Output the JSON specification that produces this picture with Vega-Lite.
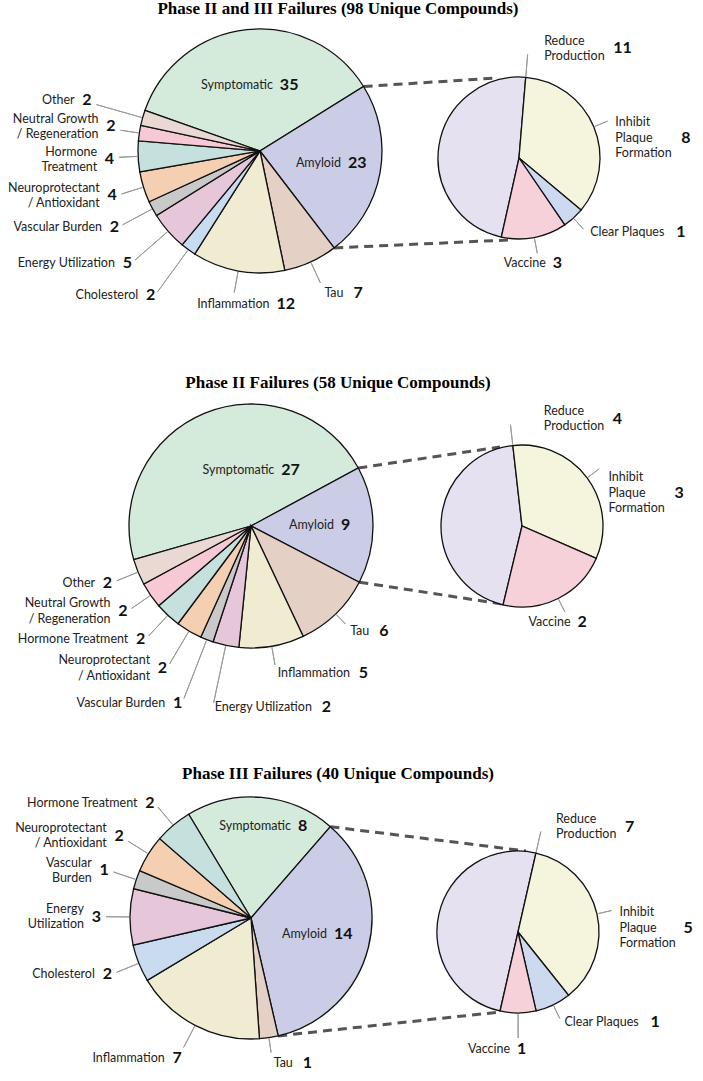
{
"$schema": "https://vega.github.io/schema/vega-lite/v6.json",
"width": 703, "height": 1081, "padding": 0,
"autosize": "none",
"background": "white",
"config": {"view": {"stroke": null}, "text": {"font": "Lato", "fontSize": 12.5, "lineHeight": 15.5, "fill": "#222"}},
"resolve": {"scale": {"theta": "independent"}},
"datasets": {
"p1": [
{"i": 1, "cat": "Symptomatic", "label": "Symptomatic", "n": 35},
{"i": 2, "cat": "Amyloid", "label": "Amyloid", "n": 23},
{"i": 3, "cat": "Tau", "label": "Tau", "n": 7},
{"i": 4, "cat": "Inflammation", "label": "Inflammation", "n": 12},
{"i": 5, "cat": "Cholesterol", "label": "Cholesterol", "n": 2},
{"i": 6, "cat": "Energy Utilization", "label": "Energy Utilization", "n": 5},
{"i": 7, "cat": "Vascular Burden", "label": "Vascular Burden", "n": 2},
{"i": 8, "cat": "Neuroprotectant / Antioxidant", "label": ["Neuroprotectant", "/ Antioxidant"], "n": 4},
{"i": 9, "cat": "Hormone Treatment", "label": ["Hormone", "Treatment"], "n": 4},
{"i": 10, "cat": "Neutral Growth / Regeneration", "label": ["Neutral Growth", "/ Regeneration"], "n": 2},
{"i": 11, "cat": "Other", "label": "Other", "n": 2}
],
"s1": [
{"i": 1, "cat": "Reduce Production", "label": ["Reduce", "Production"], "n": 11},
{"i": 2, "cat": "Inhibit Plaque Formation", "label": ["Inhibit", "Plaque", "Formation"], "n": 8},
{"i": 3, "cat": "Clear Plaques", "label": "Clear Plaques", "n": 1},
{"i": 4, "cat": "Vaccine", "label": "Vaccine", "n": 3}
],
"p2": [
{"i": 1, "cat": "Symptomatic", "label": "Symptomatic", "n": 27},
{"i": 2, "cat": "Amyloid", "label": "Amyloid", "n": 9},
{"i": 3, "cat": "Tau", "label": "Tau", "n": 6},
{"i": 4, "cat": "Inflammation", "label": "Inflammation", "n": 5},
{"i": 6, "cat": "Energy Utilization", "label": "Energy Utilization", "n": 2},
{"i": 7, "cat": "Vascular Burden", "label": "Vascular Burden", "n": 1},
{"i": 8, "cat": "Neuroprotectant / Antioxidant", "label": ["Neuroprotectant", "/ Antioxidant"], "n": 2},
{"i": 9, "cat": "Hormone Treatment", "label": "Hormone Treatment", "n": 2},
{"i": 10, "cat": "Neutral Growth / Regeneration", "label": ["Neutral Growth", "/ Regeneration"], "n": 2},
{"i": 11, "cat": "Other", "label": "Other", "n": 2}
],
"s2": [
{"i": 1, "cat": "Reduce Production", "label": ["Reduce", "Production"], "n": 4},
{"i": 2, "cat": "Inhibit Plaque Formation", "label": ["Inhibit", "Plaque", "Formation"], "n": 3},
{"i": 4, "cat": "Vaccine", "label": "Vaccine", "n": 2}
],
"p3": [
{"i": 1, "cat": "Symptomatic", "label": "Symptomatic", "n": 8},
{"i": 2, "cat": "Amyloid", "label": "Amyloid", "n": 14},
{"i": 3, "cat": "Tau", "label": "Tau", "n": 1},
{"i": 4, "cat": "Inflammation", "label": "Inflammation", "n": 7},
{"i": 5, "cat": "Cholesterol", "label": "Cholesterol", "n": 2},
{"i": 6, "cat": "Energy Utilization", "label": ["Energy", "Utilization"], "n": 3},
{"i": 7, "cat": "Vascular Burden", "label": ["Vascular", "Burden"], "n": 1},
{"i": 8, "cat": "Neuroprotectant / Antioxidant", "label": ["Neuroprotectant", "/ Antioxidant"], "n": 2},
{"i": 9, "cat": "Hormone Treatment", "label": "Hormone Treatment", "n": 2}
],
"s3": [
{"i": 1, "cat": "Reduce Production", "label": ["Reduce", "Production"], "n": 7},
{"i": 2, "cat": "Inhibit Plaque Formation", "label": ["Inhibit", "Plaque", "Formation"], "n": 5},
{"i": 3, "cat": "Clear Plaques", "label": "Clear Plaques", "n": 1},
{"i": 4, "cat": "Vaccine", "label": "Vaccine", "n": 1}
]
},
"layer": [
{"data": {"values": [{"title": "Phase II and III Failures (98 Unique Compounds)"}]},
 "mark": {"type": "text", "font": "Liberation Serif", "fontSize": 17, "fontWeight": "bold", "fill": "#000", "baseline": "middle"},
 "encoding": {"x": {"datum": 338, "type": "quantitative", "scale": {"domain": [0, 703], "nice": false, "zero": false}, "axis": null},
  "y": {"datum": 9, "type": "quantitative", "scale": {"domain": [0, 1081], "reverse": true, "nice": false, "zero": false}, "axis": null},
  "text": {"field": "title", "type": "nominal"}}},
{"data": {"values": [{"title": "Phase II Failures (58 Unique Compounds)"}]},
 "mark": {"type": "text", "font": "Liberation Serif", "fontSize": 17, "fontWeight": "bold", "fill": "#000", "baseline": "middle"},
 "encoding": {"x": {"datum": 338, "type": "quantitative", "scale": {"domain": [0, 703], "nice": false, "zero": false}, "axis": null},
  "y": {"datum": 383, "type": "quantitative", "scale": {"domain": [0, 1081], "reverse": true, "nice": false, "zero": false}, "axis": null},
  "text": {"field": "title", "type": "nominal"}}},
{"data": {"values": [{"title": "Phase III Failures (40 Unique Compounds)"}]},
 "mark": {"type": "text", "font": "Liberation Serif", "fontSize": 17, "fontWeight": "bold", "fill": "#000", "baseline": "middle"},
 "encoding": {"x": {"datum": 338, "type": "quantitative", "scale": {"domain": [0, 703], "nice": false, "zero": false}, "axis": null},
  "y": {"datum": 774, "type": "quantitative", "scale": {"domain": [0, 1081], "reverse": true, "nice": false, "zero": false}, "axis": null},
  "text": {"field": "title", "type": "nominal"}}},

{"data": {"values": [{"link": "Amyloid"}]},
 "mark": {"type": "rule", "stroke": "#555", "strokeWidth": 3, "strokeDash": [9, 6]},
 "encoding": {"x": {"datum": 363.6, "type": "quantitative", "scale": {"domain": [0, 703], "nice": false, "zero": false}, "axis": null}, "y": {"datum": 86.5, "type": "quantitative", "scale": {"domain": [0, 1081], "reverse": true, "nice": false, "zero": false}, "axis": null}, "x2": {"datum": 497}, "y2": {"datum": 78}}},
{"data": {"values": [{"link": "Amyloid"}]},
 "mark": {"type": "rule", "stroke": "#555", "strokeWidth": 3, "strokeDash": [9, 6]},
 "encoding": {"x": {"datum": 334.2, "type": "quantitative", "scale": {"domain": [0, 703], "nice": false, "zero": false}, "axis": null}, "y": {"datum": 247.9, "type": "quantitative", "scale": {"domain": [0, 1081], "reverse": true, "nice": false, "zero": false}, "axis": null}, "x2": {"datum": 508}, "y2": {"datum": 240}}},
{"data": {"values": [{"link": "Amyloid"}]},
 "mark": {"type": "rule", "stroke": "#555", "strokeWidth": 3, "strokeDash": [9, 6]},
 "encoding": {"x": {"datum": 358.3, "type": "quantitative", "scale": {"domain": [0, 703], "nice": false, "zero": false}, "axis": null}, "y": {"datum": 468, "type": "quantitative", "scale": {"domain": [0, 1081], "reverse": true, "nice": false, "zero": false}, "axis": null}, "x2": {"datum": 500}, "y2": {"datum": 447}}},
{"data": {"values": [{"link": "Amyloid"}]},
 "mark": {"type": "rule", "stroke": "#555", "strokeWidth": 3, "strokeDash": [9, 6]},
 "encoding": {"x": {"datum": 359.3, "type": "quantitative", "scale": {"domain": [0, 703], "nice": false, "zero": false}, "axis": null}, "y": {"datum": 582.2, "type": "quantitative", "scale": {"domain": [0, 1081], "reverse": true, "nice": false, "zero": false}, "axis": null}, "x2": {"datum": 502}, "y2": {"datum": 604}}},
{"data": {"values": [{"link": "Amyloid"}]},
 "mark": {"type": "rule", "stroke": "#555", "strokeWidth": 3, "strokeDash": [9, 6]},
 "encoding": {"x": {"datum": 330.4, "type": "quantitative", "scale": {"domain": [0, 703], "nice": false, "zero": false}, "axis": null}, "y": {"datum": 826.7, "type": "quantitative", "scale": {"domain": [0, 1081], "reverse": true, "nice": false, "zero": false}, "axis": null}, "x2": {"datum": 526}, "y2": {"datum": 851}}},
{"data": {"values": [{"link": "Amyloid"}]},
 "mark": {"type": "rule", "stroke": "#555", "strokeWidth": 3, "strokeDash": [9, 6]},
 "encoding": {"x": {"datum": 278.2, "type": "quantitative", "scale": {"domain": [0, 703], "nice": false, "zero": false}, "axis": null}, "y": {"datum": 1035.9, "type": "quantitative", "scale": {"domain": [0, 1081], "reverse": true, "nice": false, "zero": false}, "axis": null}, "x2": {"datum": 500}, "y2": {"datum": 1012}}},

{"data": {"name": "p1"},
 "encoding": {
  "x": {"datum": 260, "type": "quantitative", "scale": {"domain": [0, 703], "nice": false, "zero": false}, "axis": null},
  "y": {"datum": 151, "type": "quantitative", "scale": {"domain": [0, 1081], "reverse": true, "nice": false, "zero": false}, "axis": null}},
 "layer": [
  {"mark": {"type": "arc", "radius": 122, "stroke": "#111", "strokeWidth": 1.3},
   "encoding": {
    "theta": {"field": "n", "type": "quantitative", "stack": true, "scale": {"domain": [0, 98], "range": [-1.23046, 5.05273]}},
    "order": {"field": "i", "type": "quantitative"},
    "color": {"field": "cat", "type": "nominal", "legend": null, "scale": {"domain": ["Symptomatic","Amyloid","Tau","Inflammation","Cholesterol","Energy Utilization","Vascular Burden","Neuroprotectant / Antioxidant","Hormone Treatment","Neutral Growth / Regeneration","Other","Reduce Production","Inhibit Plaque Formation","Clear Plaques","Vaccine"], "range": ["#d4eadb","#cbcde6","#e4d0c4","#efecd2","#c9dbef","#e6c6d9","#c9c9c9","#f4cfb2","#c6e1dd","#f6c9d4","#e9d9d2","#e6e1f0","#f5f4dc","#cdd9ee","#f6d1da"]}}}},

  {"transform": [{"stack": "n", "groupby": [], "sort": [{"field": "i", "order": "ascending"}], "as": ["n0", "n1"]}, {"filter": {"field": "cat", "oneOf": ["Symptomatic"]}}, {"fold": ["n0", "n1"], "as": ["edge", "bound"]}, {"aggregate": [{"op": "mean", "field": "bound", "as": "mid"}], "groupby": ["cat", "label", "n", "i"]}],
   "encoding": {"theta": {"field": "mid", "type": "quantitative", "stack": null, "scale": {"domain": [0, 98], "range": [-1.23046, 5.05273]}}},
   "layer": [
    {"mark": {"type": "text", "radius": 66, "align": "right", "baseline": "middle", "dx": 20}, "encoding": {"text": {"field": "label", "type": "nominal"}}},
    {"mark": {"type": "text", "radius": 66, "align": "left", "baseline": "middle", "dx": 27, "fontSize": 16, "fontWeight": "bold", "fill": "#111"}, "encoding": {"text": {"field": "n", "type": "quantitative"}}}]},
  {"transform": [{"stack": "n", "groupby": [], "sort": [{"field": "i", "order": "ascending"}], "as": ["n0", "n1"]}, {"filter": {"field": "cat", "oneOf": ["Amyloid"]}}, {"fold": ["n0", "n1"], "as": ["edge", "bound"]}, {"aggregate": [{"op": "mean", "field": "bound", "as": "mid"}], "groupby": ["cat", "label", "n", "i"]}],
   "encoding": {"theta": {"field": "mid", "type": "quantitative", "stack": null, "scale": {"domain": [0, 98], "range": [-1.23046, 5.05273]}}},
   "layer": [
    {"mark": {"type": "text", "radius": 66, "align": "right", "baseline": "middle", "dx": 16}, "encoding": {"text": {"field": "label", "type": "nominal"}}},
    {"mark": {"type": "text", "radius": 66, "align": "left", "baseline": "middle", "dx": 23, "fontSize": 16, "fontWeight": "bold", "fill": "#111"}, "encoding": {"text": {"field": "n", "type": "quantitative"}}}]},
  {"transform": [{"stack": "n", "groupby": [], "sort": [{"field": "i", "order": "ascending"}], "as": ["n0", "n1"]}, {"filter": {"field": "cat", "oneOf": ["Other"]}}, {"fold": ["n0", "n1"], "as": ["edge", "bound"]}, {"aggregate": [{"op": "mean", "field": "bound", "as": "mid"}], "groupby": ["cat", "label", "n", "i"]}],
   "encoding": {"theta": {"field": "mid", "type": "quantitative", "stack": null, "scale": {"domain": [0, 98], "range": [-1.23046, 5.05273]}}},
   "layer": [
    {"mark": {"type": "arc", "radius": 170, "radius2": 123, "filled": false, "stroke": "#9a9a9a", "strokeWidth": 1}, "encoding": {"theta2": {"field": "mid"}}},
    {"mark": {"type": "text", "radius": 175, "align": "right", "baseline": "middle", "dx": -17, "dy": -3}, "encoding": {"text": {"field": "label", "type": "nominal"}}},
    {"mark": {"type": "text", "radius": 175, "align": "right", "baseline": "middle", "dx": 0, "dy": -3, "fontSize": 16, "fontWeight": "bold", "fill": "#111"}, "encoding": {"text": {"field": "n", "type": "quantitative"}}}]},
  {"transform": [{"stack": "n", "groupby": [], "sort": [{"field": "i", "order": "ascending"}], "as": ["n0", "n1"]}, {"filter": {"field": "cat", "oneOf": ["Neutral Growth / Regeneration"]}}, {"fold": ["n0", "n1"], "as": ["edge", "bound"]}, {"aggregate": [{"op": "mean", "field": "bound", "as": "mid"}], "groupby": ["cat", "label", "n", "i"]}],
   "encoding": {"theta": {"field": "mid", "type": "quantitative", "stack": null, "scale": {"domain": [0, 98], "range": [-1.23046, 5.05273]}}},
   "layer": [
    {"mark": {"type": "arc", "radius": 141, "radius2": 123, "filled": false, "stroke": "#9a9a9a", "strokeWidth": 1}, "encoding": {"theta2": {"field": "mid"}}},
    {"mark": {"type": "text", "radius": 146, "align": "right", "baseline": "middle", "dx": -17, "dy": -10.75}, "encoding": {"text": {"field": "label", "type": "nominal"}}},
    {"mark": {"type": "text", "radius": 146, "align": "right", "baseline": "middle", "dx": 0, "dy": -3, "fontSize": 16, "fontWeight": "bold", "fill": "#111"}, "encoding": {"text": {"field": "n", "type": "quantitative"}}}]},
  {"transform": [{"stack": "n", "groupby": [], "sort": [{"field": "i", "order": "ascending"}], "as": ["n0", "n1"]}, {"filter": {"field": "cat", "oneOf": ["Hormone Treatment"]}}, {"fold": ["n0", "n1"], "as": ["edge", "bound"]}, {"aggregate": [{"op": "mean", "field": "bound", "as": "mid"}], "groupby": ["cat", "label", "n", "i"]}],
   "encoding": {"theta": {"field": "mid", "type": "quantitative", "stack": null, "scale": {"domain": [0, 98], "range": [-1.23046, 5.05273]}}},
   "layer": [
    {"mark": {"type": "arc", "radius": 141, "radius2": 123, "filled": false, "stroke": "#9a9a9a", "strokeWidth": 1}, "encoding": {"theta2": {"field": "mid"}}},
    {"mark": {"type": "text", "radius": 146, "align": "right", "baseline": "middle", "dx": -17, "dy": -5.75}, "encoding": {"text": {"field": "label", "type": "nominal"}}},
    {"mark": {"type": "text", "radius": 146, "align": "right", "baseline": "middle", "dx": 0, "dy": 2, "fontSize": 16, "fontWeight": "bold", "fill": "#111"}, "encoding": {"text": {"field": "n", "type": "quantitative"}}}]},
  {"transform": [{"stack": "n", "groupby": [], "sort": [{"field": "i", "order": "ascending"}], "as": ["n0", "n1"]}, {"filter": {"field": "cat", "oneOf": ["Neuroprotectant / Antioxidant"]}}, {"fold": ["n0", "n1"], "as": ["edge", "bound"]}, {"aggregate": [{"op": "mean", "field": "bound", "as": "mid"}], "groupby": ["cat", "label", "n", "i"]}],
   "encoding": {"theta": {"field": "mid", "type": "quantitative", "stack": null, "scale": {"domain": [0, 98], "range": [-1.23046, 5.05273]}}},
   "layer": [
    {"mark": {"type": "arc", "radius": 145, "radius2": 123, "filled": false, "stroke": "#9a9a9a", "strokeWidth": 1}, "encoding": {"theta2": {"field": "mid"}}},
    {"mark": {"type": "text", "radius": 150, "align": "right", "baseline": "middle", "dx": -17, "dy": -7.75}, "encoding": {"text": {"field": "label", "type": "nominal"}}},
    {"mark": {"type": "text", "radius": 150, "align": "right", "baseline": "middle", "dx": 0, "fontSize": 16, "fontWeight": "bold", "fill": "#111"}, "encoding": {"text": {"field": "n", "type": "quantitative"}}}]},
  {"transform": [{"stack": "n", "groupby": [], "sort": [{"field": "i", "order": "ascending"}], "as": ["n0", "n1"]}, {"filter": {"field": "cat", "oneOf": ["Vascular Burden"]}}, {"fold": ["n0", "n1"], "as": ["edge", "bound"]}, {"aggregate": [{"op": "mean", "field": "bound", "as": "mid"}], "groupby": ["cat", "label", "n", "i"]}],
   "encoding": {"theta": {"field": "mid", "type": "quantitative", "stack": null, "scale": {"domain": [0, 98], "range": [-1.23046, 5.05273]}}},
   "layer": [
    {"mark": {"type": "arc", "radius": 156, "radius2": 123, "filled": false, "stroke": "#9a9a9a", "strokeWidth": 1}, "encoding": {"theta2": {"field": "mid"}}},
    {"mark": {"type": "text", "radius": 160, "align": "right", "baseline": "middle", "dx": -17}, "encoding": {"text": {"field": "label", "type": "nominal"}}},
    {"mark": {"type": "text", "radius": 160, "align": "right", "baseline": "middle", "dx": 0, "fontSize": 16, "fontWeight": "bold", "fill": "#111"}, "encoding": {"text": {"field": "n", "type": "quantitative"}}}]},
  {"transform": [{"stack": "n", "groupby": [], "sort": [{"field": "i", "order": "ascending"}], "as": ["n0", "n1"]}, {"filter": {"field": "cat", "oneOf": ["Energy Utilization"]}}, {"fold": ["n0", "n1"], "as": ["edge", "bound"]}, {"aggregate": [{"op": "mean", "field": "bound", "as": "mid"}], "groupby": ["cat", "label", "n", "i"]}],
   "encoding": {"theta": {"field": "mid", "type": "quantitative", "stack": null, "scale": {"domain": [0, 98], "range": [-1.23046, 5.05273]}}},
   "layer": [
    {"mark": {"type": "arc", "radius": 166, "radius2": 123, "filled": false, "stroke": "#9a9a9a", "strokeWidth": 1}, "encoding": {"theta2": {"field": "mid"}}},
    {"mark": {"type": "text", "radius": 170, "align": "right", "baseline": "middle", "dx": -17}, "encoding": {"text": {"field": "label", "type": "nominal"}}},
    {"mark": {"type": "text", "radius": 170, "align": "right", "baseline": "middle", "dx": 0, "fontSize": 16, "fontWeight": "bold", "fill": "#111"}, "encoding": {"text": {"field": "n", "type": "quantitative"}}}]},
  {"transform": [{"stack": "n", "groupby": [], "sort": [{"field": "i", "order": "ascending"}], "as": ["n0", "n1"]}, {"filter": {"field": "cat", "oneOf": ["Cholesterol"]}}, {"fold": ["n0", "n1"], "as": ["edge", "bound"]}, {"aggregate": [{"op": "mean", "field": "bound", "as": "mid"}], "groupby": ["cat", "label", "n", "i"]}],
   "encoding": {"theta": {"field": "mid", "type": "quantitative", "stack": null, "scale": {"domain": [0, 98], "range": [-1.23046, 5.05273]}}},
   "layer": [
    {"mark": {"type": "arc", "radius": 174, "radius2": 123, "filled": false, "stroke": "#9a9a9a", "strokeWidth": 1}, "encoding": {"theta2": {"field": "mid"}}},
    {"mark": {"type": "text", "radius": 178, "align": "right", "baseline": "middle", "dx": -17}, "encoding": {"text": {"field": "label", "type": "nominal"}}},
    {"mark": {"type": "text", "radius": 178, "align": "right", "baseline": "middle", "dx": 0, "fontSize": 16, "fontWeight": "bold", "fill": "#111"}, "encoding": {"text": {"field": "n", "type": "quantitative"}}}]},
  {"transform": [{"stack": "n", "groupby": [], "sort": [{"field": "i", "order": "ascending"}], "as": ["n0", "n1"]}, {"filter": {"field": "cat", "oneOf": ["Inflammation"]}}, {"fold": ["n0", "n1"], "as": ["edge", "bound"]}, {"aggregate": [{"op": "mean", "field": "bound", "as": "mid"}], "groupby": ["cat", "label", "n", "i"]}],
   "encoding": {"theta": {"field": "mid", "type": "quantitative", "stack": null, "scale": {"domain": [0, 98], "range": [-1.23046, 5.05273]}}},
   "layer": [
    {"mark": {"type": "arc", "radius": 144, "radius2": 123, "filled": false, "stroke": "#9a9a9a", "strokeWidth": 1}, "encoding": {"theta2": {"field": "mid"}}},
    {"mark": {"type": "text", "radius": 148, "align": "right", "baseline": "middle", "dx": 36, "dy": 7}, "encoding": {"text": {"field": "label", "type": "nominal"}}},
    {"mark": {"type": "text", "radius": 148, "align": "left", "baseline": "middle", "dx": 43, "dy": 7, "fontSize": 16, "fontWeight": "bold", "fill": "#111"}, "encoding": {"text": {"field": "n", "type": "quantitative"}}}]},
  {"transform": [{"stack": "n", "groupby": [], "sort": [{"field": "i", "order": "ascending"}], "as": ["n0", "n1"]}, {"filter": {"field": "cat", "oneOf": ["Tau"]}}, {"fold": ["n0", "n1"], "as": ["edge", "bound"]}, {"aggregate": [{"op": "mean", "field": "bound", "as": "mid"}], "groupby": ["cat", "label", "n", "i"]}],
   "encoding": {"theta": {"field": "mid", "type": "quantitative", "stack": null, "scale": {"domain": [0, 98], "range": [-1.23046, 5.05273]}}},
   "layer": [
    {"mark": {"type": "arc", "radius": 145, "radius2": 123, "filled": false, "stroke": "#9a9a9a", "strokeWidth": 1}, "encoding": {"theta2": {"field": "mid"}}},
    {"mark": {"type": "text", "radius": 150, "align": "left", "baseline": "middle", "dx": 2, "dy": 6}, "encoding": {"text": {"field": "label", "type": "nominal"}}},
    {"mark": {"type": "text", "radius": 150, "align": "left", "baseline": "middle", "dx": 31, "dy": 6, "fontSize": 16, "fontWeight": "bold", "fill": "#111"}, "encoding": {"text": {"field": "n", "type": "quantitative"}}}]}
 ]},

{"data": {"name": "s1"},
 "encoding": {
  "x": {"datum": 519, "type": "quantitative", "scale": {"domain": [0, 703], "nice": false, "zero": false}, "axis": null},
  "y": {"datum": 158, "type": "quantitative", "scale": {"domain": [0, 1081], "reverse": true, "nice": false, "zero": false}, "axis": null}},
 "layer": [
  {"mark": {"type": "arc", "radius": 81, "stroke": "#111", "strokeWidth": 1.3},
   "encoding": {
    "theta": {"field": "n", "type": "quantitative", "stack": true, "scale": {"domain": [0, 23], "range": [-2.92168, 3.36151]}},
    "order": {"field": "i", "type": "quantitative"},
    "color": {"field": "cat", "type": "nominal", "legend": null}}},
  {"transform": [{"stack": "n", "groupby": [], "sort": [{"field": "i", "order": "ascending"}], "as": ["n0", "n1"]}, {"filter": {"field": "cat", "oneOf": ["Reduce Production"]}}],
   "encoding": {"theta": {"field": "n1", "type": "quantitative", "stack": null, "scale": {"domain": [0, 23], "range": [-2.92168, 3.36151]}}},
   "layer": [
    {"mark": {"type": "arc", "radius": 104, "radius2": 82, "filled": false, "stroke": "#9a9a9a", "strokeWidth": 1}, "encoding": {"theta2": {"field": "n1"}}},
    {"mark": {"type": "text", "radius": 110, "align": "left", "baseline": "middle", "dx": 16, "dy": -7.75}, "encoding": {"text": {"field": "label", "type": "nominal"}}},
    {"mark": {"type": "text", "radius": 110, "align": "left", "baseline": "middle", "dx": 85, "fontSize": 16, "fontWeight": "bold", "fill": "#111"}, "encoding": {"text": {"field": "n", "type": "quantitative"}}}]},
  {"transform": [{"stack": "n", "groupby": [], "sort": [{"field": "i", "order": "ascending"}], "as": ["n0", "n1"]}, {"filter": {"field": "cat", "oneOf": ["Inhibit Plaque Formation"]}}, {"fold": ["n0", "n1"], "as": ["edge", "bound"]}, {"aggregate": [{"op": "mean", "field": "bound", "as": "mid"}], "groupby": ["cat", "label", "n", "i"]}],
   "encoding": {"theta": {"field": "mid", "type": "quantitative", "stack": null, "scale": {"domain": [0, 23], "range": [-2.92168, 3.36151]}}},
   "layer": [
    {"mark": {"type": "arc", "radius": 96, "radius2": 82, "filled": false, "stroke": "#9a9a9a", "strokeWidth": 1}, "encoding": {"theta2": {"field": "mid"}}},
    {"mark": {"type": "text", "radius": 100, "align": "left", "baseline": "middle", "dx": 4, "dy": 2.5}, "encoding": {"text": {"field": "label", "type": "nominal"}}},
    {"mark": {"type": "text", "radius": 100, "align": "left", "baseline": "middle", "dx": 70, "dy": 18, "fontSize": 16, "fontWeight": "bold", "fill": "#111"}, "encoding": {"text": {"field": "n", "type": "quantitative"}}}]},
  {"transform": [{"stack": "n", "groupby": [], "sort": [{"field": "i", "order": "ascending"}], "as": ["n0", "n1"]}, {"filter": {"field": "cat", "oneOf": ["Clear Plaques"]}}, {"fold": ["n0", "n1"], "as": ["edge", "bound"]}, {"aggregate": [{"op": "mean", "field": "bound", "as": "mid"}], "groupby": ["cat", "label", "n", "i"]}],
   "encoding": {"theta": {"field": "mid", "type": "quantitative", "stack": null, "scale": {"domain": [0, 23], "range": [-2.92168, 3.36151]}}},
   "layer": [
    {"mark": {"type": "arc", "radius": 96, "radius2": 82, "filled": false, "stroke": "#9a9a9a", "strokeWidth": 1}, "encoding": {"theta2": {"field": "mid"}}},
    {"mark": {"type": "text", "radius": 100, "align": "left", "baseline": "middle", "dx": 4}, "encoding": {"text": {"field": "label", "type": "nominal"}}},
    {"mark": {"type": "text", "radius": 100, "align": "left", "baseline": "middle", "dx": 90, "fontSize": 16, "fontWeight": "bold", "fill": "#111"}, "encoding": {"text": {"field": "n", "type": "quantitative"}}}]},
  {"transform": [{"stack": "n", "groupby": [], "sort": [{"field": "i", "order": "ascending"}], "as": ["n0", "n1"]}, {"filter": {"field": "cat", "oneOf": ["Vaccine"]}}, {"fold": ["n0", "n1"], "as": ["edge", "bound"]}, {"aggregate": [{"op": "mean", "field": "bound", "as": "mid"}], "groupby": ["cat", "label", "n", "i"]}],
   "encoding": {"theta": {"field": "mid", "type": "quantitative", "stack": null, "scale": {"domain": [0, 23], "range": [-2.92168, 3.36151]}}},
   "layer": [
    {"mark": {"type": "arc", "radius": 97, "radius2": 82, "filled": false, "stroke": "#9a9a9a", "strokeWidth": 1}, "encoding": {"theta2": {"field": "mid"}}},
    {"mark": {"type": "text", "radius": 100, "align": "right", "baseline": "middle", "dx": 8, "dy": 7}, "encoding": {"text": {"field": "label", "type": "nominal"}}},
    {"mark": {"type": "text", "radius": 100, "align": "left", "baseline": "middle", "dx": 15, "dy": 7, "fontSize": 16, "fontWeight": "bold", "fill": "#111"}, "encoding": {"text": {"field": "n", "type": "quantitative"}}}]}
 ]},

{"data": {"name": "p2"},
 "encoding": {
  "x": {"datum": 251, "type": "quantitative", "scale": {"domain": [0, 703], "nice": false, "zero": false}, "axis": null},
  "y": {"datum": 526, "type": "quantitative", "scale": {"domain": [0, 1081], "reverse": true, "nice": false, "zero": false}, "axis": null}},
 "layer": [
  {"mark": {"type": "arc", "radius": 122, "stroke": "#111", "strokeWidth": 1.3},
   "encoding": {
    "theta": {"field": "n", "type": "quantitative", "stack": true, "scale": {"domain": [0, 58], "range": [-1.85005, 4.43314]}},
    "order": {"field": "i", "type": "quantitative"},
    "color": {"field": "cat", "type": "nominal", "legend": null}}},
  {"transform": [{"stack": "n", "groupby": [], "sort": [{"field": "i", "order": "ascending"}], "as": ["n0", "n1"]}, {"filter": {"field": "cat", "oneOf": ["Symptomatic"]}}, {"fold": ["n0", "n1"], "as": ["edge", "bound"]}, {"aggregate": [{"op": "mean", "field": "bound", "as": "mid"}], "groupby": ["cat", "label", "n", "i"]}],
   "encoding": {"theta": {"field": "mid", "type": "quantitative", "stack": null, "scale": {"domain": [0, 58], "range": [-1.85005, 4.43314]}}},
   "layer": [
    {"mark": {"type": "text", "radius": 60, "align": "right", "baseline": "middle", "dx": 46}, "encoding": {"text": {"field": "label", "type": "nominal"}}},
    {"mark": {"type": "text", "radius": 60, "align": "left", "baseline": "middle", "dx": 53, "fontSize": 16, "fontWeight": "bold", "fill": "#111"}, "encoding": {"text": {"field": "n", "type": "quantitative"}}}]},
  {"transform": [{"stack": "n", "groupby": [], "sort": [{"field": "i", "order": "ascending"}], "as": ["n0", "n1"]}, {"filter": {"field": "cat", "oneOf": ["Amyloid"]}}, {"fold": ["n0", "n1"], "as": ["edge", "bound"]}, {"aggregate": [{"op": "mean", "field": "bound", "as": "mid"}], "groupby": ["cat", "label", "n", "i"]}],
   "encoding": {"theta": {"field": "mid", "type": "quantitative", "stack": null, "scale": {"domain": [0, 58], "range": [-1.85005, 4.43314]}}},
   "layer": [
    {"mark": {"type": "text", "radius": 66, "align": "right", "baseline": "middle", "dx": 17}, "encoding": {"text": {"field": "label", "type": "nominal"}}},
    {"mark": {"type": "text", "radius": 66, "align": "left", "baseline": "middle", "dx": 24, "fontSize": 16, "fontWeight": "bold", "fill": "#111"}, "encoding": {"text": {"field": "n", "type": "quantitative"}}}]},
  {"transform": [{"stack": "n", "groupby": [], "sort": [{"field": "i", "order": "ascending"}], "as": ["n0", "n1"]}, {"filter": {"field": "cat", "oneOf": ["Other"]}}, {"fold": ["n0", "n1"], "as": ["edge", "bound"]}, {"aggregate": [{"op": "mean", "field": "bound", "as": "mid"}], "groupby": ["cat", "label", "n", "i"]}],
   "encoding": {"theta": {"field": "mid", "type": "quantitative", "stack": null, "scale": {"domain": [0, 58], "range": [-1.85005, 4.43314]}}},
   "layer": [
    {"mark": {"type": "arc", "radius": 145, "radius2": 123, "filled": false, "stroke": "#9a9a9a", "strokeWidth": 1}, "encoding": {"theta2": {"field": "mid"}}},
    {"mark": {"type": "text", "radius": 150, "align": "right", "baseline": "middle", "dx": -17}, "encoding": {"text": {"field": "label", "type": "nominal"}}},
    {"mark": {"type": "text", "radius": 150, "align": "right", "baseline": "middle", "dx": 0, "fontSize": 16, "fontWeight": "bold", "fill": "#111"}, "encoding": {"text": {"field": "n", "type": "quantitative"}}}]},
  {"transform": [{"stack": "n", "groupby": [], "sort": [{"field": "i", "order": "ascending"}], "as": ["n0", "n1"]}, {"filter": {"field": "cat", "oneOf": ["Neutral Growth / Regeneration"]}}, {"fold": ["n0", "n1"], "as": ["edge", "bound"]}, {"aggregate": [{"op": "mean", "field": "bound", "as": "mid"}], "groupby": ["cat", "label", "n", "i"]}],
   "encoding": {"theta": {"field": "mid", "type": "quantitative", "stack": null, "scale": {"domain": [0, 58], "range": [-1.85005, 4.43314]}}},
   "layer": [
    {"mark": {"type": "arc", "radius": 145, "radius2": 123, "filled": false, "stroke": "#9a9a9a", "strokeWidth": 1}, "encoding": {"theta2": {"field": "mid"}}},
    {"mark": {"type": "text", "radius": 150, "align": "right", "baseline": "middle", "dx": -17, "dy": -7.75}, "encoding": {"text": {"field": "label", "type": "nominal"}}},
    {"mark": {"type": "text", "radius": 150, "align": "right", "baseline": "middle", "dx": 0, "fontSize": 16, "fontWeight": "bold", "fill": "#111"}, "encoding": {"text": {"field": "n", "type": "quantitative"}}}]},
  {"transform": [{"stack": "n", "groupby": [], "sort": [{"field": "i", "order": "ascending"}], "as": ["n0", "n1"]}, {"filter": {"field": "cat", "oneOf": ["Hormone Treatment"]}}, {"fold": ["n0", "n1"], "as": ["edge", "bound"]}, {"aggregate": [{"op": "mean", "field": "bound", "as": "mid"}], "groupby": ["cat", "label", "n", "i"]}],
   "encoding": {"theta": {"field": "mid", "type": "quantitative", "stack": null, "scale": {"domain": [0, 58], "range": [-1.85005, 4.43314]}}},
   "layer": [
    {"mark": {"type": "arc", "radius": 150, "radius2": 123, "filled": false, "stroke": "#9a9a9a", "strokeWidth": 1}, "encoding": {"theta2": {"field": "mid"}}},
    {"mark": {"type": "text", "radius": 155, "align": "right", "baseline": "middle", "dx": -17}, "encoding": {"text": {"field": "label", "type": "nominal"}}},
    {"mark": {"type": "text", "radius": 155, "align": "right", "baseline": "middle", "dx": 0, "fontSize": 16, "fontWeight": "bold", "fill": "#111"}, "encoding": {"text": {"field": "n", "type": "quantitative"}}}]},
  {"transform": [{"stack": "n", "groupby": [], "sort": [{"field": "i", "order": "ascending"}], "as": ["n0", "n1"]}, {"filter": {"field": "cat", "oneOf": ["Neuroprotectant / Antioxidant"]}}, {"fold": ["n0", "n1"], "as": ["edge", "bound"]}, {"aggregate": [{"op": "mean", "field": "bound", "as": "mid"}], "groupby": ["cat", "label", "n", "i"]}],
   "encoding": {"theta": {"field": "mid", "type": "quantitative", "stack": null, "scale": {"domain": [0, 58], "range": [-1.85005, 4.43314]}}},
   "layer": [
    {"mark": {"type": "arc", "radius": 160, "radius2": 123, "filled": false, "stroke": "#9a9a9a", "strokeWidth": 1}, "encoding": {"theta2": {"field": "mid"}}},
    {"mark": {"type": "text", "radius": 165, "align": "right", "baseline": "middle", "dx": -17, "dy": -7.75}, "encoding": {"text": {"field": "label", "type": "nominal"}}},
    {"mark": {"type": "text", "radius": 165, "align": "right", "baseline": "middle", "dx": 0, "fontSize": 16, "fontWeight": "bold", "fill": "#111"}, "encoding": {"text": {"field": "n", "type": "quantitative"}}}]},
  {"transform": [{"stack": "n", "groupby": [], "sort": [{"field": "i", "order": "ascending"}], "as": ["n0", "n1"]}, {"filter": {"field": "cat", "oneOf": ["Vascular Burden"]}}, {"fold": ["n0", "n1"], "as": ["edge", "bound"]}, {"aggregate": [{"op": "mean", "field": "bound", "as": "mid"}], "groupby": ["cat", "label", "n", "i"]}],
   "encoding": {"theta": {"field": "mid", "type": "quantitative", "stack": null, "scale": {"domain": [0, 58], "range": [-1.85005, 4.43314]}}},
   "layer": [
    {"mark": {"type": "arc", "radius": 185, "radius2": 123, "filled": false, "stroke": "#9a9a9a", "strokeWidth": 1}, "encoding": {"theta2": {"field": "mid"}}},
    {"mark": {"type": "text", "radius": 190, "align": "right", "baseline": "middle", "dx": -17}, "encoding": {"text": {"field": "label", "type": "nominal"}}},
    {"mark": {"type": "text", "radius": 190, "align": "right", "baseline": "middle", "dx": 0, "fontSize": 16, "fontWeight": "bold", "fill": "#111"}, "encoding": {"text": {"field": "n", "type": "quantitative"}}}]},
  {"transform": [{"stack": "n", "groupby": [], "sort": [{"field": "i", "order": "ascending"}], "as": ["n0", "n1"]}, {"filter": {"field": "cat", "oneOf": ["Energy Utilization"]}}, {"fold": ["n0", "n1"], "as": ["edge", "bound"]}, {"aggregate": [{"op": "mean", "field": "bound", "as": "mid"}], "groupby": ["cat", "label", "n", "i"]}],
   "encoding": {"theta": {"field": "mid", "type": "quantitative", "stack": null, "scale": {"domain": [0, 58], "range": [-1.85005, 4.43314]}}},
   "layer": [
    {"mark": {"type": "arc", "radius": 181, "radius2": 123, "filled": false, "stroke": "#9a9a9a", "strokeWidth": 1}, "encoding": {"theta2": {"field": "mid"}}},
    {"mark": {"type": "text", "radius": 185, "align": "left", "baseline": "middle", "dx": 2}, "encoding": {"text": {"field": "label", "type": "nominal"}}},
    {"mark": {"type": "text", "radius": 185, "align": "left", "baseline": "middle", "dx": 109, "fontSize": 16, "fontWeight": "bold", "fill": "#111"}, "encoding": {"text": {"field": "n", "type": "quantitative"}}}]},
  {"transform": [{"stack": "n", "groupby": [], "sort": [{"field": "i", "order": "ascending"}], "as": ["n0", "n1"]}, {"filter": {"field": "cat", "oneOf": ["Inflammation"]}}, {"fold": ["n0", "n1"], "as": ["edge", "bound"]}, {"aggregate": [{"op": "mean", "field": "bound", "as": "mid"}], "groupby": ["cat", "label", "n", "i"]}],
   "encoding": {"theta": {"field": "mid", "type": "quantitative", "stack": null, "scale": {"domain": [0, 58], "range": [-1.85005, 4.43314]}}},
   "layer": [
    {"mark": {"type": "arc", "radius": 141, "radius2": 123, "filled": false, "stroke": "#9a9a9a", "strokeWidth": 1}, "encoding": {"theta2": {"field": "mid"}}},
    {"mark": {"type": "text", "radius": 145, "align": "left", "baseline": "middle", "dx": 2, "dy": 4}, "encoding": {"text": {"field": "label", "type": "nominal"}}},
    {"mark": {"type": "text", "radius": 145, "align": "left", "baseline": "middle", "dx": 83, "dy": 4, "fontSize": 16, "fontWeight": "bold", "fill": "#111"}, "encoding": {"text": {"field": "n", "type": "quantitative"}}}]},
  {"transform": [{"stack": "n", "groupby": [], "sort": [{"field": "i", "order": "ascending"}], "as": ["n0", "n1"]}, {"filter": {"field": "cat", "oneOf": ["Tau"]}}, {"fold": ["n0", "n1"], "as": ["edge", "bound"]}, {"aggregate": [{"op": "mean", "field": "bound", "as": "mid"}], "groupby": ["cat", "label", "n", "i"]}],
   "encoding": {"theta": {"field": "mid", "type": "quantitative", "stack": null, "scale": {"domain": [0, 58], "range": [-1.85005, 4.43314]}}},
   "layer": [
    {"mark": {"type": "arc", "radius": 136, "radius2": 123, "filled": false, "stroke": "#9a9a9a", "strokeWidth": 1}, "encoding": {"theta2": {"field": "mid"}}},
    {"mark": {"type": "text", "radius": 140, "align": "left", "baseline": "middle", "dx": 2, "dy": 4}, "encoding": {"text": {"field": "label", "type": "nominal"}}},
    {"mark": {"type": "text", "radius": 140, "align": "left", "baseline": "middle", "dx": 31, "dy": 4, "fontSize": 16, "fontWeight": "bold", "fill": "#111"}, "encoding": {"text": {"field": "n", "type": "quantitative"}}}]}
 ]},

{"data": {"name": "s2"},
 "encoding": {
  "x": {"datum": 522, "type": "quantitative", "scale": {"domain": [0, 703], "nice": false, "zero": false}, "axis": null},
  "y": {"datum": 526, "type": "quantitative", "scale": {"domain": [0, 1081], "reverse": true, "nice": false, "zero": false}, "axis": null}},
 "layer": [
  {"mark": {"type": "arc", "radius": 81, "stroke": "#111", "strokeWidth": 1.3},
   "encoding": {
    "theta": {"field": "n", "type": "quantitative", "stack": true, "scale": {"domain": [0, 9], "range": [-2.90597, 3.37722]}},
    "order": {"field": "i", "type": "quantitative"},
    "color": {"field": "cat", "type": "nominal", "legend": null}}},
  {"transform": [{"stack": "n", "groupby": [], "sort": [{"field": "i", "order": "ascending"}], "as": ["n0", "n1"]}, {"filter": {"field": "cat", "oneOf": ["Reduce Production"]}}],
   "encoding": {"theta": {"field": "n1", "type": "quantitative", "stack": null, "scale": {"domain": [0, 9], "range": [-2.90597, 3.37722]}}},
   "layer": [
    {"mark": {"type": "arc", "radius": 102, "radius2": 82, "filled": false, "stroke": "#9a9a9a", "strokeWidth": 1}, "encoding": {"theta2": {"field": "n1"}}},
    {"mark": {"type": "text", "radius": 108, "align": "left", "baseline": "middle", "dx": 34, "dy": -7.75}, "encoding": {"text": {"field": "label", "type": "nominal"}}},
    {"mark": {"type": "text", "radius": 108, "align": "left", "baseline": "middle", "dx": 103, "fontSize": 16, "fontWeight": "bold", "fill": "#111"}, "encoding": {"text": {"field": "n", "type": "quantitative"}}}]},
  {"transform": [{"stack": "n", "groupby": [], "sort": [{"field": "i", "order": "ascending"}], "as": ["n0", "n1"]}, {"filter": {"field": "cat", "oneOf": ["Inhibit Plaque Formation"]}}, {"fold": ["n0", "n1"], "as": ["edge", "bound"]}, {"aggregate": [{"op": "mean", "field": "bound", "as": "mid"}], "groupby": ["cat", "label", "n", "i"]}],
   "encoding": {"theta": {"field": "mid", "type": "quantitative", "stack": null, "scale": {"domain": [0, 9], "range": [-2.90597, 3.37722]}}},
   "layer": [
    {"mark": {"type": "arc", "radius": 96, "radius2": 82, "filled": false, "stroke": "#9a9a9a", "strokeWidth": 1}, "encoding": {"theta2": {"field": "mid"}}},
    {"mark": {"type": "text", "radius": 100, "align": "left", "baseline": "middle", "dx": 6, "dy": 10.5}, "encoding": {"text": {"field": "label", "type": "nominal"}}},
    {"mark": {"type": "text", "radius": 100, "align": "left", "baseline": "middle", "dx": 72, "dy": 26, "fontSize": 16, "fontWeight": "bold", "fill": "#111"}, "encoding": {"text": {"field": "n", "type": "quantitative"}}}]},
  {"transform": [{"stack": "n", "groupby": [], "sort": [{"field": "i", "order": "ascending"}], "as": ["n0", "n1"]}, {"filter": {"field": "cat", "oneOf": ["Vaccine"]}}, {"fold": ["n0", "n1"], "as": ["edge", "bound"]}, {"aggregate": [{"op": "mean", "field": "bound", "as": "mid"}], "groupby": ["cat", "label", "n", "i"]}],
   "encoding": {"theta": {"field": "mid", "type": "quantitative", "stack": null, "scale": {"domain": [0, 9], "range": [-2.90597, 3.37722]}}},
   "layer": [
    {"mark": {"type": "arc", "radius": 96, "radius2": 82, "filled": false, "stroke": "#9a9a9a", "strokeWidth": 1}, "encoding": {"theta2": {"field": "mid"}}},
    {"mark": {"type": "text", "radius": 100, "align": "right", "baseline": "middle", "dx": 4, "dy": 7}, "encoding": {"text": {"field": "label", "type": "nominal"}}},
    {"mark": {"type": "text", "radius": 100, "align": "left", "baseline": "middle", "dx": 11, "dy": 7, "fontSize": 16, "fontWeight": "bold", "fill": "#111"}, "encoding": {"text": {"field": "n", "type": "quantitative"}}}]}
 ]},

{"data": {"name": "p3"},
 "encoding": {
  "x": {"datum": 251, "type": "quantitative", "scale": {"domain": [0, 703], "nice": false, "zero": false}, "axis": null},
  "y": {"datum": 918, "type": "quantitative", "scale": {"domain": [0, 1081], "reverse": true, "nice": false, "zero": false}, "axis": null}},
 "layer": [
  {"mark": {"type": "arc", "radius": 121, "stroke": "#111", "strokeWidth": 1.3},
   "encoding": {
    "theta": {"field": "n", "type": "quantitative", "stack": true, "scale": {"domain": [0, 40], "range": [-0.54105, 5.74213]}},
    "order": {"field": "i", "type": "quantitative"},
    "color": {"field": "cat", "type": "nominal", "legend": null}}},
  {"transform": [{"stack": "n", "groupby": [], "sort": [{"field": "i", "order": "ascending"}], "as": ["n0", "n1"]}, {"filter": {"field": "cat", "oneOf": ["Symptomatic"]}}, {"fold": ["n0", "n1"], "as": ["edge", "bound"]}, {"aggregate": [{"op": "mean", "field": "bound", "as": "mid"}], "groupby": ["cat", "label", "n", "i"]}],
   "encoding": {"theta": {"field": "mid", "type": "quantitative", "stack": null, "scale": {"domain": [0, 40], "range": [-0.54105, 5.74213]}}},
   "layer": [
    {"mark": {"type": "text", "radius": 92, "align": "right", "baseline": "middle", "dx": 32}, "encoding": {"text": {"field": "label", "type": "nominal"}}},
    {"mark": {"type": "text", "radius": 92, "align": "left", "baseline": "middle", "dx": 39, "fontSize": 16, "fontWeight": "bold", "fill": "#111"}, "encoding": {"text": {"field": "n", "type": "quantitative"}}}]},
  {"transform": [{"stack": "n", "groupby": [], "sort": [{"field": "i", "order": "ascending"}], "as": ["n0", "n1"]}, {"filter": {"field": "cat", "oneOf": ["Amyloid"]}}, {"fold": ["n0", "n1"], "as": ["edge", "bound"]}, {"aggregate": [{"op": "mean", "field": "bound", "as": "mid"}], "groupby": ["cat", "label", "n", "i"]}],
   "encoding": {"theta": {"field": "mid", "type": "quantitative", "stack": null, "scale": {"domain": [0, 40], "range": [-0.54105, 5.74213]}}},
   "layer": [
    {"mark": {"type": "text", "radius": 66, "align": "right", "baseline": "middle", "dx": 12}, "encoding": {"text": {"field": "label", "type": "nominal"}}},
    {"mark": {"type": "text", "radius": 66, "align": "left", "baseline": "middle", "dx": 19, "fontSize": 16, "fontWeight": "bold", "fill": "#111"}, "encoding": {"text": {"field": "n", "type": "quantitative"}}}]},
  {"transform": [{"stack": "n", "groupby": [], "sort": [{"field": "i", "order": "ascending"}], "as": ["n0", "n1"]}, {"filter": {"field": "cat", "oneOf": ["Hormone Treatment", "Cholesterol"]}}, {"fold": ["n0", "n1"], "as": ["edge", "bound"]}, {"aggregate": [{"op": "mean", "field": "bound", "as": "mid"}], "groupby": ["cat", "label", "n", "i"]}],
   "encoding": {"theta": {"field": "mid", "type": "quantitative", "stack": null, "scale": {"domain": [0, 40], "range": [-0.54105, 5.74213]}}},
   "layer": [
    {"mark": {"type": "arc", "radius": 145, "radius2": 122, "filled": false, "stroke": "#9a9a9a", "strokeWidth": 1}, "encoding": {"theta2": {"field": "mid"}}},
    {"mark": {"type": "text", "radius": 150, "align": "right", "baseline": "middle", "dx": -17}, "encoding": {"text": {"field": "label", "type": "nominal"}}},
    {"mark": {"type": "text", "radius": 150, "align": "right", "baseline": "middle", "dx": 0, "fontSize": 16, "fontWeight": "bold", "fill": "#111"}, "encoding": {"text": {"field": "n", "type": "quantitative"}}}]},
  {"transform": [{"stack": "n", "groupby": [], "sort": [{"field": "i", "order": "ascending"}], "as": ["n0", "n1"]}, {"filter": {"field": "cat", "oneOf": ["Neuroprotectant / Antioxidant"]}}, {"fold": ["n0", "n1"], "as": ["edge", "bound"]}, {"aggregate": [{"op": "mean", "field": "bound", "as": "mid"}], "groupby": ["cat", "label", "n", "i"]}],
   "encoding": {"theta": {"field": "mid", "type": "quantitative", "stack": null, "scale": {"domain": [0, 40], "range": [-0.54105, 5.74213]}}},
   "layer": [
    {"mark": {"type": "arc", "radius": 145, "radius2": 122, "filled": false, "stroke": "#9a9a9a", "strokeWidth": 1}, "encoding": {"theta2": {"field": "mid"}}},
    {"mark": {"type": "text", "radius": 150, "align": "right", "baseline": "middle", "dx": -17, "dy": -10.75}, "encoding": {"text": {"field": "label", "type": "nominal"}}},
    {"mark": {"type": "text", "radius": 150, "align": "right", "baseline": "middle", "dx": 0, "dy": -3, "fontSize": 16, "fontWeight": "bold", "fill": "#111"}, "encoding": {"text": {"field": "n", "type": "quantitative"}}}]},
  {"transform": [{"stack": "n", "groupby": [], "sort": [{"field": "i", "order": "ascending"}], "as": ["n0", "n1"]}, {"filter": {"field": "cat", "oneOf": ["Vascular Burden", "Energy Utilization"]}}, {"fold": ["n0", "n1"], "as": ["edge", "bound"]}, {"aggregate": [{"op": "mean", "field": "bound", "as": "mid"}], "groupby": ["cat", "label", "n", "i"]}],
   "encoding": {"theta": {"field": "mid", "type": "quantitative", "stack": null, "scale": {"domain": [0, 40], "range": [-0.54105, 5.74213]}}},
   "layer": [
    {"mark": {"type": "arc", "radius": 145, "radius2": 122, "filled": false, "stroke": "#9a9a9a", "strokeWidth": 1}, "encoding": {"theta2": {"field": "mid"}}},
    {"mark": {"type": "text", "radius": 150, "align": "right", "baseline": "middle", "dx": -17, "dy": -7.75}, "encoding": {"text": {"field": "label", "type": "nominal"}}},
    {"mark": {"type": "text", "radius": 150, "align": "right", "baseline": "middle", "dx": 0, "fontSize": 16, "fontWeight": "bold", "fill": "#111"}, "encoding": {"text": {"field": "n", "type": "quantitative"}}}]},
  {"transform": [{"stack": "n", "groupby": [], "sort": [{"field": "i", "order": "ascending"}], "as": ["n0", "n1"]}, {"filter": {"field": "cat", "oneOf": ["Inflammation"]}}, {"fold": ["n0", "n1"], "as": ["edge", "bound"]}, {"aggregate": [{"op": "mean", "field": "bound", "as": "mid"}], "groupby": ["cat", "label", "n", "i"]}],
   "encoding": {"theta": {"field": "mid", "type": "quantitative", "stack": null, "scale": {"domain": [0, 40], "range": [-0.54105, 5.74213]}}},
   "layer": [
    {"mark": {"type": "arc", "radius": 146, "radius2": 122, "filled": false, "stroke": "#9a9a9a", "strokeWidth": 1}, "encoding": {"theta2": {"field": "mid"}}},
    {"mark": {"type": "text", "radius": 150, "align": "right", "baseline": "middle", "dx": -17, "dy": 7}, "encoding": {"text": {"field": "label", "type": "nominal"}}},
    {"mark": {"type": "text", "radius": 150, "align": "right", "baseline": "middle", "dx": 0, "dy": 7, "fontSize": 16, "fontWeight": "bold", "fill": "#111"}, "encoding": {"text": {"field": "n", "type": "quantitative"}}}]},
  {"transform": [{"stack": "n", "groupby": [], "sort": [{"field": "i", "order": "ascending"}], "as": ["n0", "n1"]}, {"filter": {"field": "cat", "oneOf": ["Tau"]}}, {"fold": ["n0", "n1"], "as": ["edge", "bound"]}, {"aggregate": [{"op": "mean", "field": "bound", "as": "mid"}], "groupby": ["cat", "label", "n", "i"]}],
   "encoding": {"theta": {"field": "mid", "type": "quantitative", "stack": null, "scale": {"domain": [0, 40], "range": [-0.54105, 5.74213]}}},
   "layer": [
    {"mark": {"type": "arc", "radius": 136, "radius2": 122, "filled": false, "stroke": "#9a9a9a", "strokeWidth": 1}, "encoding": {"theta2": {"field": "mid"}}},
    {"mark": {"type": "text", "radius": 140, "align": "left", "baseline": "middle", "dx": 2, "dy": 7}, "encoding": {"text": {"field": "label", "type": "nominal"}}},
    {"mark": {"type": "text", "radius": 140, "align": "left", "baseline": "middle", "dx": 31, "dy": 7, "fontSize": 16, "fontWeight": "bold", "fill": "#111"}, "encoding": {"text": {"field": "n", "type": "quantitative"}}}]}
 ]},

{"data": {"name": "s3"},
 "encoding": {
  "x": {"datum": 518, "type": "quantitative", "scale": {"domain": [0, 703], "nice": false, "zero": false}, "axis": null},
  "y": {"datum": 932, "type": "quantitative", "scale": {"domain": [0, 1081], "reverse": true, "nice": false, "zero": false}, "axis": null}},
 "layer": [
  {"mark": {"type": "arc", "radius": 81, "stroke": "#111", "strokeWidth": 1.3},
   "encoding": {
    "theta": {"field": "n", "type": "quantitative", "stack": true, "scale": {"domain": [0, 14], "range": [-2.91819, 3.365]}},
    "order": {"field": "i", "type": "quantitative"},
    "color": {"field": "cat", "type": "nominal", "legend": null}}},
  {"transform": [{"stack": "n", "groupby": [], "sort": [{"field": "i", "order": "ascending"}], "as": ["n0", "n1"]}, {"filter": {"field": "cat", "oneOf": ["Reduce Production"]}}],
   "encoding": {"theta": {"field": "n1", "type": "quantitative", "stack": null, "scale": {"domain": [0, 14], "range": [-2.91819, 3.365]}}},
   "layer": [
    {"mark": {"type": "arc", "radius": 103, "radius2": 82, "filled": false, "stroke": "#9a9a9a", "strokeWidth": 1}, "encoding": {"theta2": {"field": "n1"}}},
    {"mark": {"type": "text", "radius": 108, "align": "left", "baseline": "middle", "dx": 14, "dy": -7.75}, "encoding": {"text": {"field": "label", "type": "nominal"}}},
    {"mark": {"type": "text", "radius": 108, "align": "left", "baseline": "middle", "dx": 83, "fontSize": 16, "fontWeight": "bold", "fill": "#111"}, "encoding": {"text": {"field": "n", "type": "quantitative"}}}]},
  {"transform": [{"stack": "n", "groupby": [], "sort": [{"field": "i", "order": "ascending"}], "as": ["n0", "n1"]}, {"filter": {"field": "cat", "oneOf": ["Inhibit Plaque Formation"]}}, {"fold": ["n0", "n1"], "as": ["edge", "bound"]}, {"aggregate": [{"op": "mean", "field": "bound", "as": "mid"}], "groupby": ["cat", "label", "n", "i"]}],
   "encoding": {"theta": {"field": "mid", "type": "quantitative", "stack": null, "scale": {"domain": [0, 14], "range": [-2.91819, 3.365]}}},
   "layer": [
    {"mark": {"type": "arc", "radius": 96, "radius2": 82, "filled": false, "stroke": "#9a9a9a", "strokeWidth": 1}, "encoding": {"theta2": {"field": "mid"}}},
    {"mark": {"type": "text", "radius": 100, "align": "left", "baseline": "middle", "dx": 4, "dy": 2.5}, "encoding": {"text": {"field": "label", "type": "nominal"}}},
    {"mark": {"type": "text", "radius": 100, "align": "left", "baseline": "middle", "dx": 68, "dy": 18, "fontSize": 16, "fontWeight": "bold", "fill": "#111"}, "encoding": {"text": {"field": "n", "type": "quantitative"}}}]},
  {"transform": [{"stack": "n", "groupby": [], "sort": [{"field": "i", "order": "ascending"}], "as": ["n0", "n1"]}, {"filter": {"field": "cat", "oneOf": ["Clear Plaques"]}}, {"fold": ["n0", "n1"], "as": ["edge", "bound"]}, {"aggregate": [{"op": "mean", "field": "bound", "as": "mid"}], "groupby": ["cat", "label", "n", "i"]}],
   "encoding": {"theta": {"field": "mid", "type": "quantitative", "stack": null, "scale": {"domain": [0, 14], "range": [-2.91819, 3.365]}}},
   "layer": [
    {"mark": {"type": "arc", "radius": 96, "radius2": 82, "filled": false, "stroke": "#9a9a9a", "strokeWidth": 1}, "encoding": {"theta2": {"field": "mid"}}},
    {"mark": {"type": "text", "radius": 100, "align": "left", "baseline": "middle", "dx": 3}, "encoding": {"text": {"field": "label", "type": "nominal"}}},
    {"mark": {"type": "text", "radius": 100, "align": "left", "baseline": "middle", "dx": 89, "fontSize": 16, "fontWeight": "bold", "fill": "#111"}, "encoding": {"text": {"field": "n", "type": "quantitative"}}}]},
  {"transform": [{"stack": "n", "groupby": [], "sort": [{"field": "i", "order": "ascending"}], "as": ["n0", "n1"]}, {"filter": {"field": "cat", "oneOf": ["Vaccine"]}}, {"fold": ["n0", "n1"], "as": ["edge", "bound"]}, {"aggregate": [{"op": "mean", "field": "bound", "as": "mid"}], "groupby": ["cat", "label", "n", "i"]}],
   "encoding": {"theta": {"field": "mid", "type": "quantitative", "stack": null, "scale": {"domain": [0, 14], "range": [-2.91819, 3.365]}}},
   "layer": [
    {"mark": {"type": "arc", "radius": 106, "radius2": 82, "filled": false, "stroke": "#9a9a9a", "strokeWidth": 1}, "encoding": {"theta2": {"field": "mid"}}},
    {"mark": {"type": "text", "radius": 110, "align": "right", "baseline": "middle", "dx": -8, "dy": 7}, "encoding": {"text": {"field": "label", "type": "nominal"}}},
    {"mark": {"type": "text", "radius": 110, "align": "left", "baseline": "middle", "dx": -1, "dy": 7, "fontSize": 16, "fontWeight": "bold", "fill": "#111"}, "encoding": {"text": {"field": "n", "type": "quantitative"}}}]}
 ]}
]
}
